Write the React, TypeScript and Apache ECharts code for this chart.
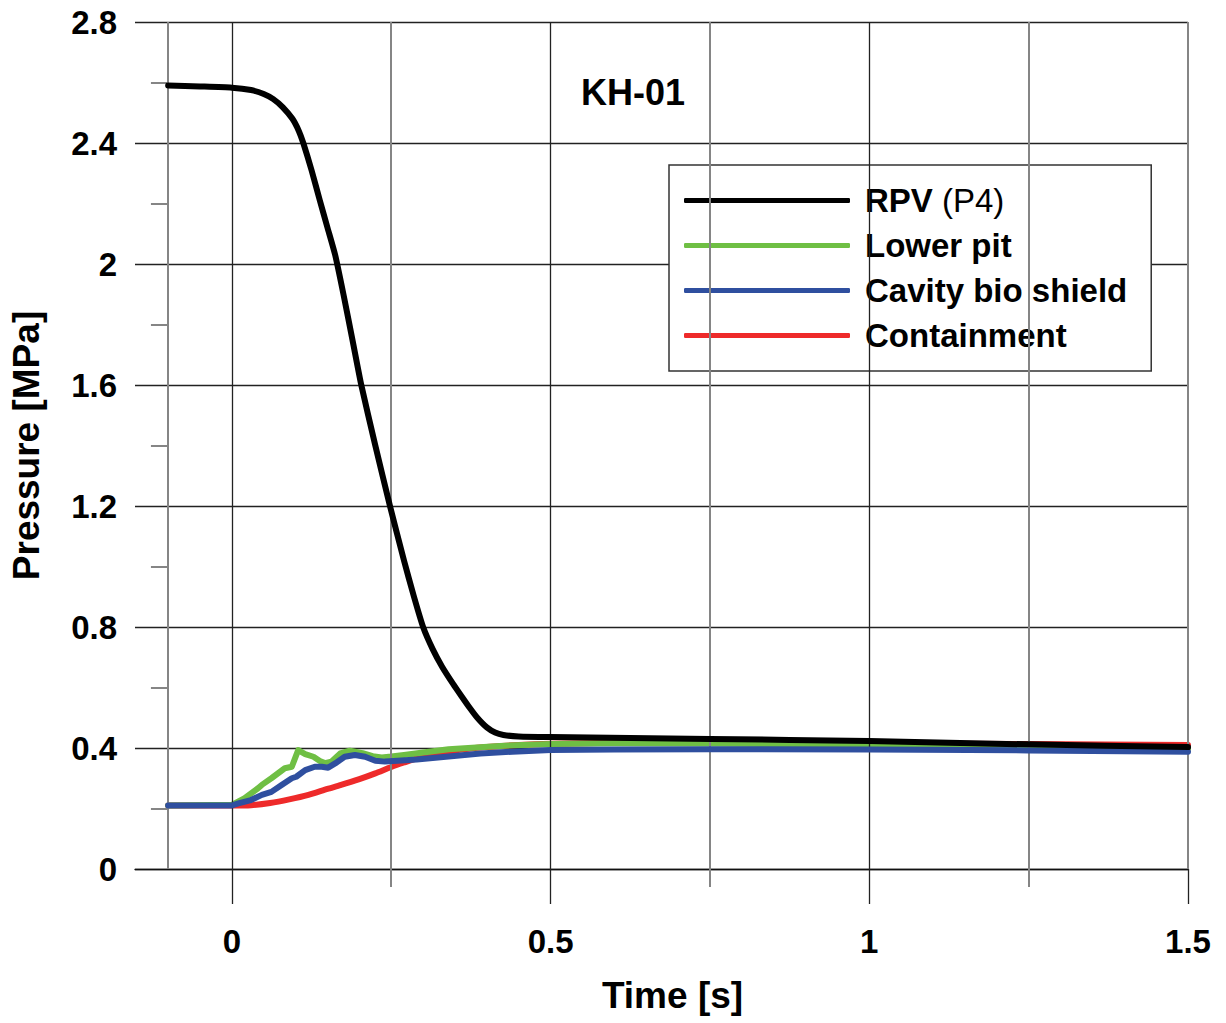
import React, { useEffect, useRef } from "react";
import * as echarts from "echarts";

const FONT = '"Liberation Sans", Arial, sans-serif';

const seriesNames = ["RPV (P4)", "Lower pit", "Cavity bio shield", "Containment"];
const seriesColors = ["#000000", "#6fbf44", "#2f4f9f", "#ee2a2a"];

const rpv: number[][] = [
  [-0.1, 2.59], [-0.05, 2.587], [0, 2.583], [0.03, 2.575], [0.05, 2.562], [0.065, 2.545],
  [0.08, 2.518], [0.095, 2.48], [0.105, 2.44], [0.112, 2.4], [0.125, 2.31], [0.138, 2.21],
  [0.15, 2.12], [0.162, 2.03], [0.175, 1.9], [0.19, 1.74], [0.203, 1.6], [0.225, 1.4],
  [0.248, 1.2], [0.27, 1.02], [0.285, 0.905], [0.3, 0.8], [0.315, 0.727], [0.33, 0.668],
  [0.347, 0.612], [0.36, 0.572], [0.373, 0.533], [0.385, 0.5], [0.4, 0.468], [0.413, 0.451],
  [0.426, 0.443], [0.45, 0.438], [0.5, 0.436], [0.75, 0.43], [1.0, 0.423], [1.25, 0.412],
  [1.5, 0.403],
];

const lowerPit: number[][] = [
  [-0.1, 0.21], [0, 0.212], [0.02, 0.234], [0.041, 0.267], [0.047, 0.278], [0.062, 0.3],
  [0.083, 0.333], [0.094, 0.338], [0.104, 0.393], [0.115, 0.38], [0.128, 0.371], [0.138, 0.357],
  [0.146, 0.35], [0.156, 0.355], [0.17, 0.382], [0.185, 0.391], [0.205, 0.383], [0.221, 0.373],
  [0.235, 0.369], [0.25, 0.372], [0.27, 0.377], [0.3, 0.385], [0.34, 0.396], [0.42, 0.407],
  [0.5, 0.413], [0.6, 0.416], [0.75, 0.415], [1.0, 0.41], [1.25, 0.404], [1.5, 0.398],
];

const cavity: number[][] = [
  [-0.1, 0.21], [0, 0.21], [0.01, 0.217], [0.03, 0.228], [0.047, 0.245], [0.062, 0.255],
  [0.078, 0.278], [0.094, 0.3], [0.101, 0.305], [0.115, 0.327], [0.13, 0.338], [0.141, 0.338],
  [0.151, 0.335], [0.162, 0.349], [0.177, 0.371], [0.193, 0.377], [0.209, 0.371], [0.225, 0.358],
  [0.24, 0.355], [0.26, 0.358], [0.29, 0.362], [0.34, 0.372], [0.39, 0.382], [0.44, 0.388],
  [0.5, 0.393], [0.6, 0.395], [0.75, 0.396], [1.0, 0.395], [1.25, 0.392], [1.5, 0.388],
];

const containment: number[][] = [
  [-0.1, 0.21], [0, 0.21], [0.03, 0.211], [0.06, 0.218], [0.09, 0.23], [0.12, 0.245],
  [0.15, 0.265], [0.17, 0.277], [0.2, 0.297], [0.225, 0.316], [0.25, 0.337], [0.27, 0.352],
  [0.29, 0.366], [0.32, 0.38], [0.35, 0.392], [0.4, 0.403], [0.45, 0.41], [0.5, 0.414],
  [0.6, 0.417], [0.75, 0.417], [1.0, 0.415], [1.25, 0.413], [1.5, 0.41],
];

const xLabelTicks = [0, 0.5, 1, 1.5];
const xMinorTicks = [0.25, 0.75, 1.25];
const xDarkGrid = [0, 0.5, 1];
const xGrayGrid = [-0.1, 0.25, 0.75, 1.25, 1.5];
const yMinorTicks = [0.2, 0.6, 1.0, 1.4, 1.8, 2.2, 2.6];

const X_MIN = -0.152;
const X_MAX = 1.5;
const Y_MIN = 0;
const Y_MAX = 2.8;

export default function App() {
  const ref = useRef<HTMLDivElement>(null);

  useEffect(() => {
    if (!ref.current) return;
    const chart = echarts.init(ref.current, undefined, { renderer: "svg" });

    const gridLines: any[] = [];
    xDarkGrid.forEach((x) =>
      gridLines.push([
        { coord: [x, Y_MIN], lineStyle: { color: "#222", width: 1.3, type: "solid" } },
        { coord: [x, Y_MAX] },
      ])
    );
    xGrayGrid.forEach((x) =>
      gridLines.push([
        { coord: [x, Y_MIN], lineStyle: { color: "#858585", width: 2, type: "solid" } },
        { coord: [x, Y_MAX] },
      ])
    );
    yMinorTicks.forEach((y) =>
      gridLines.push([
        { coord: [-0.127, y], lineStyle: { color: "#858585", width: 2, type: "solid" } },
        { coord: [-0.1, y] },
      ])
    );

    const dataSets = [rpv, lowerPit, cavity, containment];
    const zs = [6, 4, 5, 3];
    const smoothing = [0.2, 0, 0, 0.2];

    const option: any = {
      animation: false,
      backgroundColor: "#ffffff",
      textStyle: { fontFamily: FONT },
      title: {
        text: "KH-01",
        left: 576,
        top: 69,
        textStyle: { fontFamily: FONT, fontSize: 36, fontWeight: "bold", color: "#000" },
      },
      grid: { left: 135, right: 38, top: 22, bottom: 154, containLabel: false },
      legend: {
        data: seriesNames,
        orient: "vertical",
        left: 669,
        top: 165,
        padding: [19, 24, 19, 15],
        itemGap: 12,
        itemWidth: 166,
        itemHeight: 5,
        icon: "roundRect",
        borderColor: "#333",
        borderWidth: 1.5,
        backgroundColor: "#ffffff",
        selectedMode: false,
        formatter: (name: string) =>
          name === "RPV (P4)" ? "{g| }{b|RPV }{n|(P4)}" : "{g| }{b|" + name + "}",
        textStyle: {
          fontFamily: FONT,
          fontSize: 33,
          color: "#000",
          rich: {
            g: { width: 10, fontSize: 33, lineHeight: 34 },
            b: { fontFamily: FONT, fontSize: 33, fontWeight: "bold", color: "#000", lineHeight: 34 },
            n: { fontFamily: FONT, fontSize: 33, fontWeight: "normal", color: "#000", lineHeight: 34 },
          },
        },
      },
      xAxis: [
        {
          type: "value",
          min: X_MIN,
          max: X_MAX,
          position: "bottom",
          name: "Time [s]",
          nameLocation: "middle",
          nameGap: 108,
          nameTextStyle: {
            fontFamily: FONT,
            fontSize: 37,
            fontWeight: "bold",
            color: "#000",
            padding: [0, 0, 0, 22],
          },
          axisLine: { show: true, onZero: false, lineStyle: { color: "#111", width: 1.3 } },
          axisTick: {
            show: true,
            customValues: xLabelTicks,
            length: 35,
            lineStyle: { color: "#222", width: 1.3 },
          },
          axisLabel: {
            show: true,
            customValues: xLabelTicks,
            margin: 56,
            fontFamily: FONT,
            fontSize: 33,
            fontWeight: "bold",
            color: "#000",
            formatter: (v: number) => String(v),
          },
          splitLine: { show: false },
        },
        {
          type: "value",
          min: X_MIN,
          max: X_MAX,
          position: "bottom",
          axisLine: { show: false },
          axisTick: {
            show: true,
            customValues: xMinorTicks,
            length: 18,
            lineStyle: { color: "#858585", width: 2 },
          },
          axisLabel: { show: false },
          splitLine: { show: false },
        },
      ],
      yAxis: {
        type: "value",
        min: Y_MIN,
        max: Y_MAX,
        interval: 0.4,
        name: "Pressure [MPa]",
        nameLocation: "middle",
        nameGap: 90,
        nameTextStyle: { fontFamily: FONT, fontSize: 37, fontWeight: "bold", color: "#000" },
        axisLine: { show: false },
        axisTick: { show: false },
        axisLabel: {
          margin: 18,
          fontFamily: FONT,
          fontSize: 33,
          fontWeight: "bold",
          color: "#000",
        },
        splitLine: { show: true, lineStyle: { color: "#222", width: 1.3 } },
      },
      series: [
        {
          name: "_grid",
          type: "line",
          data: [],
          z: 1,
          silent: true,
          markLine: {
            silent: true,
            symbol: ["none", "none"],
            label: { show: false },
            animation: false,
            data: gridLines,
          },
        },
        ...seriesNames.map((name, i) => ({
          name,
          type: "line",
          data: dataSets[i],
          z: zs[i],
          showSymbol: false,
          symbol: "none",
          smooth: smoothing[i],
          color: seriesColors[i],
          itemStyle: { color: seriesColors[i] },
          lineStyle: { color: seriesColors[i], width: 6, cap: "round", join: "round" },
        })),
      ],
    };

    chart.setOption(option);
    return () => chart.dispose();
  }, []);

  return (
    <div
      ref={ref}
      style={{ position: "fixed", left: 0, top: 0, width: 1226, height: 1023, background: "#fff" }}
    />
  );
}
